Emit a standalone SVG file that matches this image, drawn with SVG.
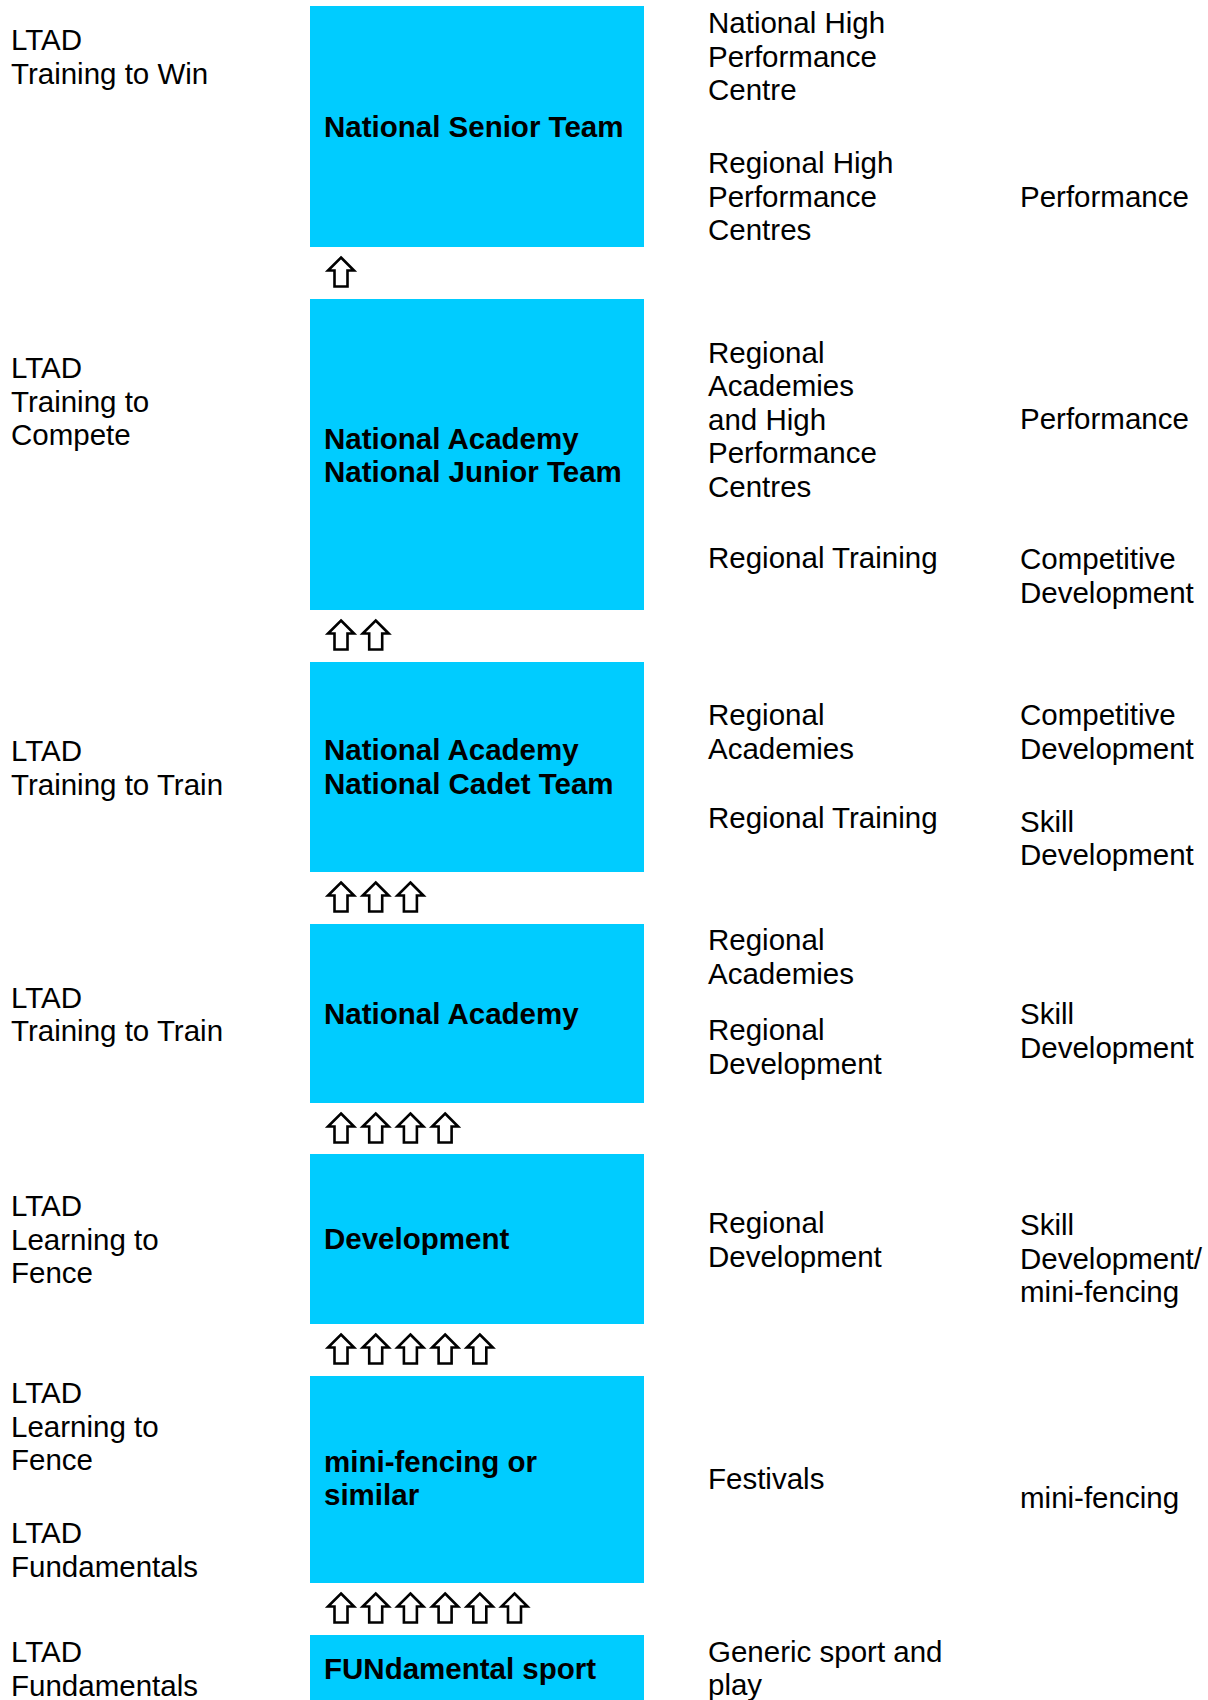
<svg xmlns="http://www.w3.org/2000/svg" xmlns:xlink="http://www.w3.org/1999/xlink" width="1208" height="1700" viewBox="0 0 1208 1700">
<style>
  .box { fill: #00CCFF; }
  .bt { font-family: "Liberation Sans", Arial, sans-serif; font-size: 29.5px; font-weight: bold; fill: #000; }
  .t { font-family: "Liberation Sans", Arial, sans-serif; font-size: 29.5px; fill: #000; }
  .arr { fill: #fff; stroke: #000; stroke-width: 2.6; stroke-linejoin: miter; }
</style>
<defs>
  <polygon id="up" class="arr" points="14,1.5 27,14.5 20.5,14.5 20.5,30.5 7.5,30.5 7.5,14.5 1,14.5"/>
</defs>
<rect width="1208" height="1700" fill="#fff"/>

<g id="node-senior">
  <rect class="box" x="310" y="6" width="334" height="241"/>
  <text class="bt" x="324" y="136.5">National Senior Team</text>
</g>
<g id="node-junior">
  <rect class="box" x="310" y="299" width="334" height="311"/>
  <text class="bt" x="324" y="448.5">National Academy</text>
  <text class="bt" x="324" y="482">National Junior Team</text>
</g>
<g id="node-cadet">
  <rect class="box" x="310" y="662" width="334" height="210"/>
  <text class="bt" x="324" y="760">National Academy</text>
  <text class="bt" x="324" y="793.5">National Cadet Team</text>
</g>
<g id="node-academy">
  <rect class="box" x="310" y="924" width="334" height="179"/>
  <text class="bt" x="324" y="1023.5">National Academy</text>
</g>
<g id="node-development">
  <rect class="box" x="310" y="1154" width="334" height="170"/>
  <text class="bt" x="324" y="1248.5">Development</text>
</g>
<g id="node-minifencing">
  <rect class="box" x="310" y="1376" width="334" height="207"/>
  <text class="bt" x="324" y="1471.5">mini-fencing or</text>
  <text class="bt" x="324" y="1505">similar</text>
</g>
<g id="node-fundamental">
  <rect class="box" x="310" y="1635" width="334" height="70"/>
  <text class="bt" x="324" y="1678.5">FUNdamental sport</text>
</g>

<g id="connectors">
  <use href="#up" xlink:href="#up" x="327" y="256"/>

  <use href="#up" xlink:href="#up" x="327" y="619"/>
  <use href="#up" xlink:href="#up" x="361.7" y="619"/>

  <use href="#up" xlink:href="#up" x="327" y="881"/>
  <use href="#up" xlink:href="#up" x="361.7" y="881"/>
  <use href="#up" xlink:href="#up" x="396.4" y="881"/>

  <use href="#up" xlink:href="#up" x="327" y="1112"/>
  <use href="#up" xlink:href="#up" x="361.7" y="1112"/>
  <use href="#up" xlink:href="#up" x="396.4" y="1112"/>
  <use href="#up" xlink:href="#up" x="431.1" y="1112"/>

  <use href="#up" xlink:href="#up" x="327" y="1333"/>
  <use href="#up" xlink:href="#up" x="361.7" y="1333"/>
  <use href="#up" xlink:href="#up" x="396.4" y="1333"/>
  <use href="#up" xlink:href="#up" x="431.1" y="1333"/>
  <use href="#up" xlink:href="#up" x="465.8" y="1333"/>

  <use href="#up" xlink:href="#up" x="327" y="1592"/>
  <use href="#up" xlink:href="#up" x="361.7" y="1592"/>
  <use href="#up" xlink:href="#up" x="396.4" y="1592"/>
  <use href="#up" xlink:href="#up" x="431.1" y="1592"/>
  <use href="#up" xlink:href="#up" x="465.8" y="1592"/>
  <use href="#up" xlink:href="#up" x="500.5" y="1592"/>
</g>

<g id="ltad-labels" class="t">
  <text x="11" y="50">LTAD</text>
  <text x="11" y="83.5">Training to Win</text>

  <text x="11" y="378">LTAD</text>
  <text x="11" y="411.5">Training to</text>
  <text x="11" y="445">Compete</text>

  <text x="11" y="761">LTAD</text>
  <text x="11" y="794.5">Training to Train</text>

  <text x="11" y="1007.5">LTAD</text>
  <text x="11" y="1041">Training to Train</text>

  <text x="11" y="1216">LTAD</text>
  <text x="11" y="1249.5">Learning to</text>
  <text x="11" y="1283">Fence</text>

  <text x="11" y="1403">LTAD</text>
  <text x="11" y="1436.5">Learning to</text>
  <text x="11" y="1470">Fence</text>

  <text x="11" y="1543">LTAD</text>
  <text x="11" y="1576.5">Fundamentals</text>

  <text x="11" y="1662">LTAD</text>
  <text x="11" y="1695.5">Fundamentals</text>
</g>

<g id="venue-labels" class="t">
  <text x="708" y="33.3">National High</text>
  <text x="708" y="66.7">Performance</text>
  <text x="708" y="100">Centre</text>

  <text x="708" y="173.3">Regional High</text>
  <text x="708" y="206.7">Performance</text>
  <text x="708" y="240">Centres</text>

  <text x="708" y="362.7">Regional</text>
  <text x="708" y="396">Academies</text>
  <text x="708" y="429.5">and High</text>
  <text x="708" y="463">Performance</text>
  <text x="708" y="496.5">Centres</text>

  <text x="708" y="568.3">Regional Training</text>

  <text x="708" y="725">Regional</text>
  <text x="708" y="758.5">Academies</text>
  <text x="708" y="828.3">Regional Training</text>

  <text x="708" y="950">Regional</text>
  <text x="708" y="983.5">Academies</text>
  <text x="708" y="1040">Regional</text>
  <text x="708" y="1073.5">Development</text>

  <text x="708" y="1233.3">Regional</text>
  <text x="708" y="1267">Development</text>

  <text x="708" y="1489.3">Festivals</text>

  <text x="708" y="1661.7">Generic sport and</text>
  <text x="708" y="1695">play</text>
</g>

<g id="stage-labels" class="t">
  <text x="1020" y="206.7">Performance</text>

  <text x="1020" y="429.3">Performance</text>

  <text x="1020" y="569.3">Competitive</text>
  <text x="1020" y="603">Development</text>

  <text x="1020" y="725">Competitive</text>
  <text x="1020" y="758.5">Development</text>

  <text x="1020" y="831.7">Skill</text>
  <text x="1020" y="865">Development</text>

  <text x="1020" y="1024">Skill</text>
  <text x="1020" y="1057.5">Development</text>

  <text x="1020" y="1235">Skill</text>
  <text x="1020" y="1268.5">Development/</text>
  <text x="1020" y="1302">mini-fencing</text>

  <text x="1020" y="1508.3">mini-fencing</text>
</g>
</svg>
